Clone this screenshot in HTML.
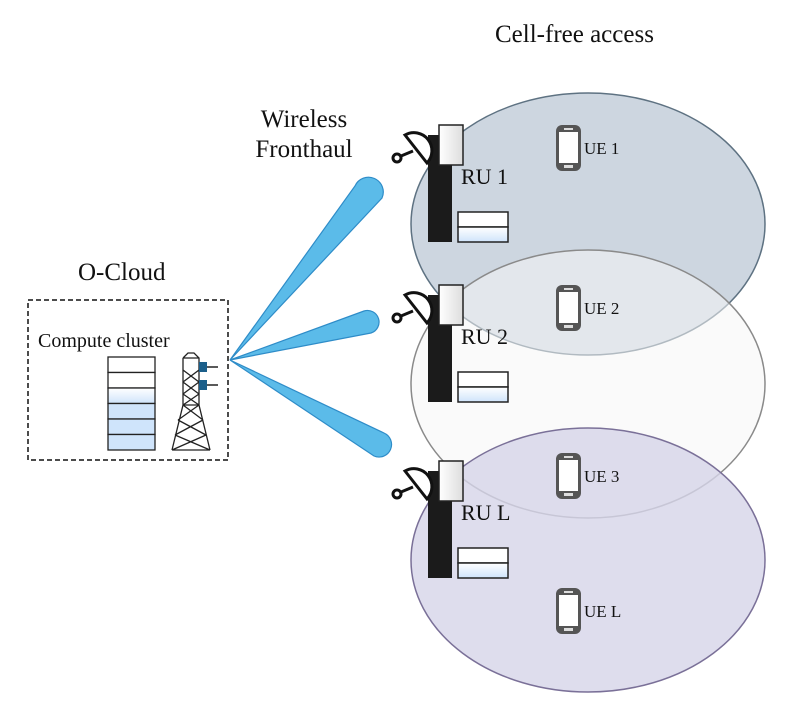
<!DOCTYPE html><html><head><style>body{margin:0;background:#fff}svg{display:block}text{font-family:"Liberation Serif",serif;fill:#111}</style></head><body>
<svg width="797" height="702" viewBox="0 0 797 702">
<defs>
<linearGradient id="g1" x1="0" y1="0" x2="0" y2="1"><stop offset="0" stop-color="#fff"/><stop offset="1" stop-color="#cfe4fb"/></linearGradient>
<linearGradient id="g2" x1="0" y1="0" x2="1" y2="0"><stop offset="0" stop-color="#fff"/><stop offset="1" stop-color="#ddd"/></linearGradient>
<g id="ue"><rect x="0" y="0" width="25" height="46" rx="6" fill="#555"/><rect x="3" y="7" width="19" height="31" fill="#fff"/><rect x="8" y="3" width="9" height="2" fill="#ddd"/><rect x="8" y="40" width="9" height="3" fill="#ddd"/></g>
<g id="ru">
<rect x="428" y="10" width="24" height="107" fill="#1b1b1b"/>
<rect x="439" y="0" width="24" height="40" fill="url(#g2)" stroke="#222" stroke-width="1.5"/>
<rect x="458" y="87" width="50" height="15" fill="#fff" stroke="#222" stroke-width="1.5"/>
<rect x="458" y="102" width="50" height="15" fill="url(#g1)" stroke="#222" stroke-width="1.5"/>
<path d="M405,10 A18,18 0 0 1 427,38 Z" fill="#fff" stroke="#111" stroke-width="3"/>
<line x1="413" y1="26" x2="401" y2="31" stroke="#111" stroke-width="3"/>
<circle cx="397" cy="33" r="4" fill="#fff" stroke="#111" stroke-width="3"/>
</g>
</defs>
<text x="495" y="42" font-size="25">Cell-free access</text>
<text x="304" y="127" font-size="25" text-anchor="middle">Wireless</text>
<text x="304" y="157" font-size="25" text-anchor="middle">Fronthaul</text>
<text x="78" y="280" font-size="25">O-Cloud</text>
<ellipse cx="588" cy="224" rx="177" ry="131" fill="#cdd6e0" stroke="#5e7282" stroke-width="1.5"/>
<ellipse cx="588" cy="384" rx="177" ry="134" fill="rgba(246,246,246,0.55)" stroke="#8a8a8a" stroke-width="1.5"/>
<ellipse cx="588" cy="560" rx="177" ry="132" fill="rgba(214,212,232,0.8)" stroke="#7a7098" stroke-width="1.5"/>
<g fill="#5bbbe9" stroke="#2e8cc8" stroke-width="1.2">
<path d="M230,360 L355,186 A14,14 0 0 1 382,198 Z"/>
<path d="M230,360 L364,311 A11,11 0 0 1 371,333 Z"/>
<path d="M230,360 L384,433 A12,12 0 0 1 374,456 Z"/>
</g>
<use href="#ru" y="125"/>
<use href="#ru" y="285"/>
<use href="#ru" y="461"/>
<text x="461" y="184" font-size="22">RU 1</text>
<text x="461" y="344" font-size="22">RU 2</text>
<text x="461" y="520" font-size="22">RU L</text>
<use href="#ue" x="556" y="125"/><text x="584" y="154" font-size="17">UE 1</text>
<use href="#ue" x="556" y="285"/><text x="584" y="314" font-size="17">UE 2</text>
<use href="#ue" x="556" y="453"/><text x="584" y="482" font-size="17">UE 3</text>
<use href="#ue" x="556" y="588"/><text x="584" y="617" font-size="17">UE L</text>
<rect x="28" y="300" width="200" height="160" fill="none" stroke="#111" stroke-width="1.5" stroke-dasharray="5,3"/>
<text x="38" y="347" font-size="20">Compute cluster</text>
<g stroke="#222" stroke-width="1.3">
<rect x="108" y="357" width="47" height="15.5" fill="#fff"/>
<rect x="108" y="372.5" width="47" height="15.5" fill="#fff"/>
<rect x="108" y="388" width="47" height="15.5" fill="url(#g1)"/>
<rect x="108" y="403.5" width="47" height="15.5" fill="#cfe4fb"/>
<rect x="108" y="419" width="47" height="15.5" fill="#cfe4fb"/>
<rect x="108" y="434.5" width="47" height="15.5" fill="#cfe4fb"/>
</g>
<g stroke="#222" stroke-width="1.3" fill="none">
<path d="M183,358 L188,353 L194,353 L199,358 L199,405 L210,450 M183,358 L183,405 L172,450 M183,358 H199 M183,405 H199 M183,370 L199,382 M199,370 L183,382 M183,382 L199,394 M199,382 L183,394 M183,394 L199,405 M199,394 L183,405 M183,405 L203,420 M199,405 L178,420 M178,420 L206,435 M203,420 L175,435 M175,435 L210,450 M206,435 L172,450 M172,450 H210"/>
</g>
<g fill="#1b5f8a"><rect x="199" y="362" width="8" height="10"/><rect x="199" y="380" width="8" height="10"/></g>
<g stroke="#222" stroke-width="1.5"><line x1="207" y1="367" x2="218" y2="367"/><line x1="207" y1="385" x2="218" y2="385"/></g>
</svg></body></html>
